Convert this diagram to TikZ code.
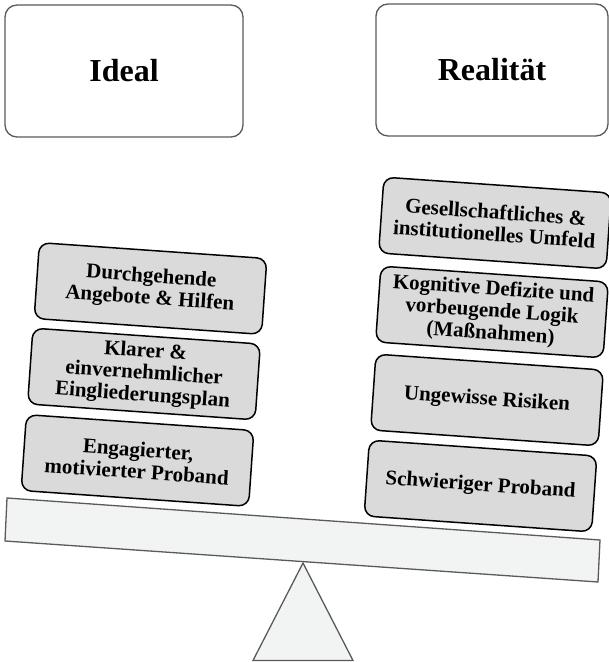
\documentclass[tikz,border=0pt]{standalone}
\usepackage{fontspec}
\setmainfont{Liberation Serif}
\definecolor{linegray}{HTML}{5A5A5A}
\definecolor{boxgray}{HTML}{DADADA}
\definecolor{beamfill}{HTML}{F2F3F3}
\begin{document}
\begin{tikzpicture}[x=1pt,y=1pt,
  title/.style={draw=linegray, line width=1.3pt, rounded corners=12pt, fill=white,
    font=\fontsize{32}{36}\selectfont\bfseries, inner sep=0pt},
  weight/.style={draw=black, line width=1.5pt, rounded corners=10pt, fill=boxgray,
    minimum width=228pt, minimum height=76pt, rotate=-4, align=center, inner sep=2pt,
    font=\fontsize{21}{22}\selectfont\bfseries},
  plank/.style={draw=linegray, fill=beamfill, line width=1.3pt, line join=miter}
]
\useasboundingbox (0,0) rectangle (609,662);

% titles
\node[title, minimum width=238pt, minimum height=132pt] (ideal) at (124,591) {Ideal};
\node[title, minimum width=232pt, minimum height=132pt] (real) at (492,592) {Realität};

% fulcrum and beam
\draw[plank] (303,99) -- (353,1.5) -- (253,1.5) -- cycle;
\draw[plank] (7,164) -- (600,122) -- (598,80) -- (5,121) -- cycle;

% left stack
\node[weight] (a) at (150.5,373.5) {Durchgehende\\Angebote \& Hilfen};
\node[weight] (b) at (144,288) {Klarer \&\\einvernehmlicher\\Eingliederungsplan};
\node[weight] (c) at (137.5,201.5) {Engagierter,\\motivierter Proband};

% right stack
\node[weight] (d) at (495,439) {Gesellschaftliches \&\\institutionelles Umfeld};
\node[weight] (e) at (492,350) {Kognitive Defizite und\\vorbeugende Logik\\(Maßnahmen)};
\node[weight] (f) at (487,262) {Ungewisse Risiken};
\node[weight] (g) at (480.5,176) {Schwieriger Proband};
\end{tikzpicture}
\end{document}
